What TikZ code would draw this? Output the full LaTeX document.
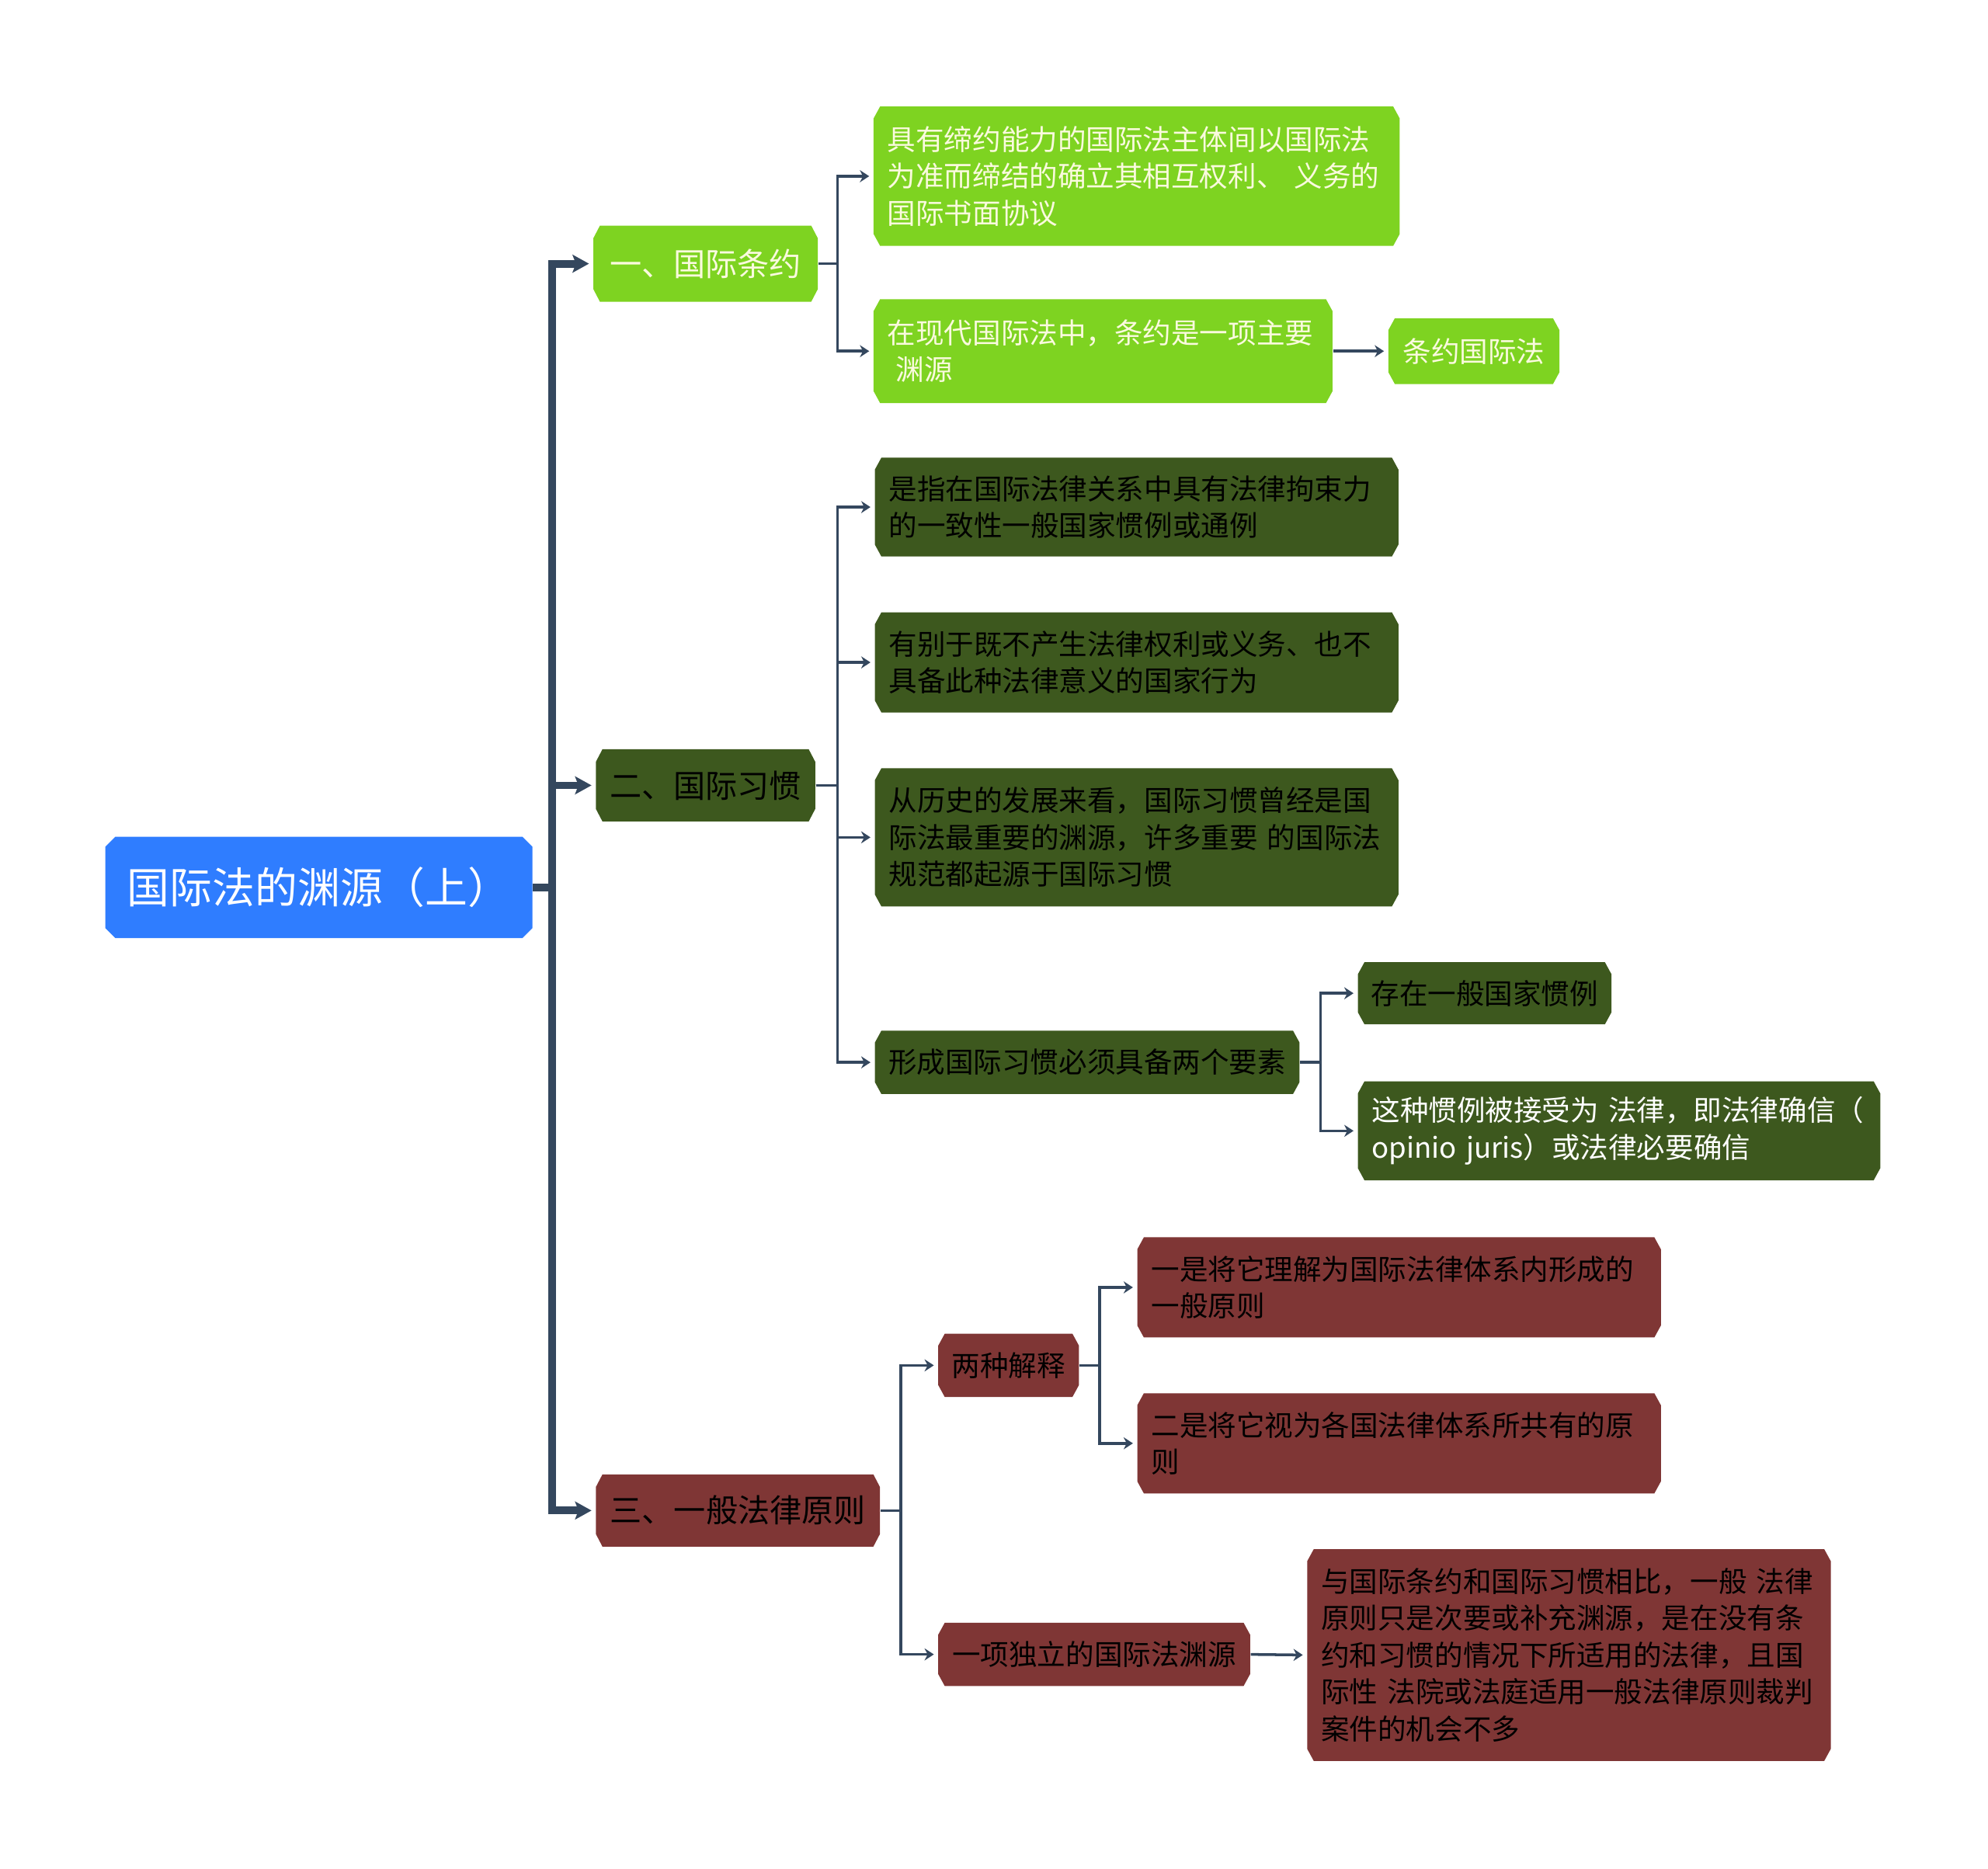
\documentclass[tikz,border=0pt]{standalone}
\usepackage{fontspec}
\setmainfont{Noto Sans CJK SC}
\usetikzlibrary{arrows.meta}
\definecolor{rootblue}{RGB}{47,125,255}
\definecolor{limeg}{RGB}{126,211,33}
\definecolor{oliveg}{RGB}{61,88,30}
\definecolor{brickr}{RGB}{127,54,53}
\definecolor{lnk}{RGB}{52,71,94}
\definecolor{cream}{RGB}{250,250,222}
\newcommand{\px}{0.4645pt}
\tikzset{
  chamf/.style n args={3}{rectangle, inner sep=0pt,
    path picture={\fill[#1]
      ([xshift=#2]path picture bounding box.north west) --
      ([xshift=-#2]path picture bounding box.north east) --
      ([yshift=-#3]path picture bounding box.north east) --
      ([yshift=#3]path picture bounding box.south east) --
      ([xshift=-#2]path picture bounding box.south east) --
      ([xshift=#2]path picture bounding box.south west) --
      ([yshift=#3]path picture bounding box.south west) --
      ([yshift=-#3]path picture bounding box.north west) -- cycle;}},
  sz/.style 2 args={minimum width=#1*\px, minimum height=#2*\px},
  wrap/.style={align=left, text width=#1*\px-22*\px},
  rootbox/.style={chamf={rootblue}{3.7pt}{3.7pt}, text=white, font=\fontsize{15.6}{18}\selectfont},
  lvA/.style={chamf={#1}{2.4pt}{4.6pt}, font=\fontsize{11.7}{14}\selectfont},
  lvB/.style={chamf={#1}{2.4pt}{4.4pt}, font=\fontsize{10.4}{13.5}\selectfont},
  trunk/.style={lnk, line width=2.8pt, -{Stealth[length=6pt,width=6.5pt,inset=1.2pt]}, shorten >=1.4pt},
  twig/.style={lnk, line width=1pt, -{Stealth[length=3.4pt,width=4.4pt]}, shorten >=1.4pt},
}
\begin{document}
\begin{tikzpicture}[x=\px, y=-\px]
  \useasboundingbox (0,0) rectangle (1568,1474);
  % root and first level
  \node[rootbox, sz={337}{80}] (root) at (251.5,700) {国际法的渊源（上）};
  \node[lvA=limeg, sz={177}{60}, text=cream] (ty) at (556.5,208) {一、国际条约};
  \node[lvA=oliveg, sz={173}{57}] (cu) at (556.5,619.5) {二、国际习惯};
  \node[lvA=brickr, sz={224}{57}] (pr) at (582,1191.5) {三、一般法律原则};

  % treaties
  \node[lvB=limeg, sz={415}{110}, wrap=415, text=cream] (tyDef) at (896.5,139)
    {具有缔约能力的国际法主体间以国际法\\为准而缔结的确立其相互权利、~义务的\\国际书面协议};
  \node[lvB=limeg, sz={362}{82}, wrap=362, text=cream] (tyMain) at (870,277)
    {在现代国际法中，条约是一项主要\\\hspace{.3em}渊源};
  \node[lvB=limeg, sz={135}{52}, text=cream] (tyLaw) at (1162.5,277) {条约国际法};

  % custom
  \node[lvB=oliveg, sz={413}{78}, wrap=413] (cuDef) at (896.5,400)
    {是指在国际法律关系中具有法律拘束力\\的一致性一般国家惯例或通例};
  \node[lvB=oliveg, sz={413}{79}, wrap=413] (cuDiff) at (896.5,522.5)
    {有别于既不产生法律权利或义务、也不\\具备此种法律意义的国家行为};
  \node[lvB=oliveg, sz={413}{109}, wrap=413] (cuHist) at (896.5,660.5)
    {从历史的发展来看，国际习惯曾经是国\\际法最重要的渊源，许多重要~的国际法\\规范都起源于国际习惯};
  \node[lvB=oliveg, sz={335}{50}] (cuElem) at (857.5,838) {形成国际习惯必须具备两个要素};
  \node[lvB=oliveg, sz={200}{49}] (cuPrac) at (1171,783.5) {存在一般国家惯例};
  \node[lvB=oliveg, sz={412}{78}, wrap=412, text=white] (cuOpin) at (1277,892)
    {这种惯例被接受为~法律，即法律确信（\\opinio juris）或法律必要确信};

  % general principles
  \node[lvB=brickr, sz={111}{50}] (prTwo) at (795.5,1077) {两种解释};
  \node[lvB=brickr, sz={413}{79}, wrap=413] (prOne) at (1103.5,1015.5)
    {一是将它理解为国际法律体系内形成的\\一般原则};
  \node[lvB=brickr, sz={413}{79}, wrap=413] (prOther) at (1103.5,1138.5)
    {二是将它视为各国法律体系所共有的原\\则};
  \node[lvB=brickr, sz={246}{50}] (prInd) at (863,1305) {一项独立的国际法渊源};
  \node[lvB=brickr, sz={413}{167}, wrap=413] (prCmp) at (1237.5,1305.5)
    {与国际条约和国际习惯相比，一般~法律\\原则只是次要或补充渊源，是在没有条\\约和习惯的情况下所适用的法律，且国\\际性~法院或法庭适用一般法律原则裁判\\案件的机会不多};

  % connectors
  \foreach \k in {ty,cu,pr}
    \draw[trunk] (root.east) -- ++(15,0) |- (\k.west);
  \foreach \k in {tyDef,tyMain}
    \draw[twig] (ty.east) -- ++(15,0) |- (\k.west);
  \draw[twig] (tyMain.east) -- (tyLaw.west);
  \foreach \k in {cuDef,cuDiff,cuHist,cuElem}
    \draw[twig] (cu.east) -- ++(17,0) |- (\k.west);
  \foreach \k in {cuPrac,cuOpin}
    \draw[twig] (cuElem.east) -- ++(16,0) |- (\k.west);
  \foreach \k in {prTwo,prInd}
    \draw[twig] (pr.east) -- ++(16,0) |- (\k.west);
  \foreach \k in {prOne,prOther}
    \draw[twig] (prTwo.east) -- ++(16,0) |- (\k.west);
  \draw[twig] (prInd.east) -- (prCmp.west);
\end{tikzpicture}
\end{document}
